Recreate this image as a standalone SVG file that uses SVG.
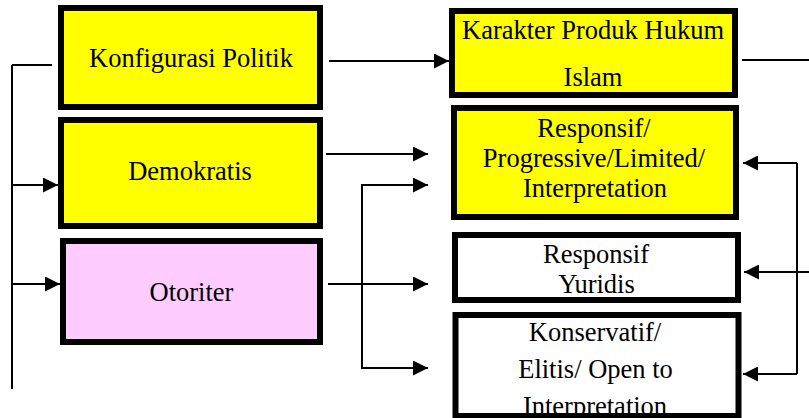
<svg xmlns="http://www.w3.org/2000/svg" width="809" height="418" viewBox="0 0 809 418">
<style>
.box{stroke:#000;stroke-width:6}
.y{fill:#FFFF00}
.p{fill:#FFCCFF}
.w{fill:#FFFFFF}
.t{font-family:'Liberation Serif','Times New Roman',Times,'DejaVu Serif',serif;font-size:26.5px;fill:#000;text-anchor:middle}
.c{fill:none;stroke:#000;stroke-width:2}
</style>
<defs>
<marker id="ah" markerUnits="userSpaceOnUse" markerWidth="15" markerHeight="15" refX="15" refY="7.5" orient="auto">
<path d="M0,0 L15,7.5 L0,15 z" fill="#000"/>
</marker>
</defs>
<rect width="809" height="418" fill="#fff"/>
<g id="connectors">
<path class="c" d="M12 65 V389"/>
<path class="c" d="M12 65 H52"/>
<path class="c" d="M12 185 H58" marker-end="url(#ah)"/>
<path class="c" d="M12 284 H60" marker-end="url(#ah)"/>
<path class="c" d="M329 61 H449" marker-end="url(#ah)"/>
<path class="c" d="M742 60 H809"/>
<path class="c" d="M326 154 H428" marker-end="url(#ah)"/>
<path class="c" d="M362 185 H428" marker-end="url(#ah)"/>
<path class="c" d="M362 184 V368 H428" marker-end="url(#ah)"/>
<path class="c" d="M328 284 H428" marker-end="url(#ah)"/>
<path class="c" d="M797 163 V374"/>
<path class="c" d="M797 163 H743" marker-end="url(#ah)"/>
<path class="c" d="M809 272 H744" marker-end="url(#ah)"/>
<path class="c" d="M797 374 H743" marker-end="url(#ah)"/>
</g>
<g id="konfigurasi">
<rect class="box y" x="61" y="8" width="259" height="99"/>
<text class="t" font-family="Liberation Serif" x="191" y="67">Konfigurasi Politik</text>
</g>
<g id="demokratis">
<rect class="box y" x="61" y="120" width="259" height="106"/>
<text class="t" x="190" y="180">Demokratis</text>
</g>
<g id="otoriter">
<rect class="box p" x="63" y="241" width="257" height="101"/>
<text class="t" x="191.5" y="301">Otoriter</text>
</g>
<g id="karakter">
<rect class="box y" x="452" y="11" width="283" height="84"/>
<text class="t" x="593" y="39">Karakter Produk Hukum</text>
<text class="t" x="593" y="86">Islam</text>
</g>
<g id="responsif-progressive">
<rect class="box y" x="454" y="108" width="282" height="109"/>
<text class="t" x="594" y="137">Responsif/</text>
<text class="t" x="594" y="167">Progressive/Limited/</text>
<text class="t" x="595" y="197">Interpretation</text>
</g>
<g id="responsif-yuridis">
<rect class="box w" x="455" y="235" width="283" height="65"/>
<text class="t" x="596" y="263">Responsif</text>
<text class="t" x="596.5" y="293">Yuridis</text>
</g>
<g id="konservatif">
<rect class="w" x="455.5" y="315" width="283" height="101"/>
<text class="t" x="595" y="341">Konservatif/</text>
<text class="t" x="595.5" y="378">Elitis/ Open to</text>
<text class="t" x="595" y="415">Interpretation</text>
<rect class="box" fill="none" x="455.5" y="315" width="283" height="101"/>
</g>
</svg>
